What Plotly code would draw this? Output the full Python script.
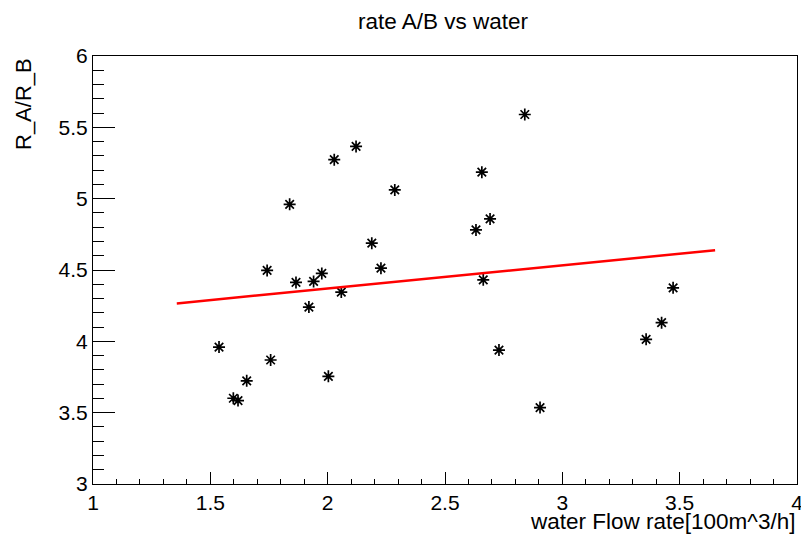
import plotly.graph_objects as go
import numpy as np

# data
water_flow = [1.537, 1.598, 1.618, 1.655, 1.742, 1.757, 1.838, 1.865, 1.920, 1.940,
              1.975, 2.003, 2.028, 2.058, 2.121, 2.188, 2.227, 2.286, 2.632, 2.657,
              2.663, 2.692, 2.730, 2.840, 2.905, 3.357, 3.423, 3.472]
rate_ab = [3.960, 3.601, 3.585, 3.723, 4.497, 3.869, 4.960, 4.413, 4.240, 4.420,
           4.476, 3.755, 5.273, 4.345, 5.366, 4.688, 4.513, 5.061, 4.781, 5.186,
           4.431, 4.858, 3.939, 5.590, 3.536, 4.014, 4.131, 4.375]

# linear fit parameters (pol1) and fit range
fit_p0 = 4.045
fit_p1 = 0.1626
fit_range = [1.357, 3.651]

x_ticks = [1, 1.5, 2, 2.5, 3, 3.5, 4]
y_ticks = [3, 3.5, 4, 4.5, 5, 5.5, 6]

fit_x = np.array(fit_range)
fit_y = fit_p0 + fit_p1 * fit_x

FONT = "Liberation Sans, Arial, Helvetica, sans-serif"

fig = go.Figure()
fig.add_trace(go.Scatter(
    x=water_flow, y=rate_ab, mode="markers",
    marker=dict(symbol="asterisk-open", size=10, color="black",
                line=dict(color="black", width=1.7)),
    showlegend=False, hoverinfo="x+y"))
fig.add_trace(go.Scatter(
    x=fit_x, y=fit_y, mode="lines",
    line=dict(color="#ff0000", width=2.5),
    showlegend=False))

fig.update_layout(
    width=801, height=534, autosize=False,
    margin=dict(l=93, r=4, t=56, b=50, autoexpand=False),
    paper_bgcolor="white", plot_bgcolor="white",
    font=dict(family=FONT, color="black", size=19),
    title=dict(text="rate A/B vs water", x=443/801, xanchor="center",
               y=1 - 21/534, yanchor="middle",
               font=dict(family=FONT, size=22.5, color="black")),
    xaxis=dict(range=[1, 4], tickvals=x_ticks,
               ticktext=[f"{v:g}" for v in x_ticks],
               ticks="inside", ticklen=12, tickwidth=1, tickcolor="black",
               minor=dict(dtick=0.1, ticks="inside", ticklen=5.5,
                          tickwidth=1, tickcolor="black"),
               showline=True, linecolor="black", linewidth=1, mirror=True,
               showgrid=False, zeroline=False, automargin=False,
               ticklabeloverflow="allow",
               tickfont=dict(family=FONT, size=21)),
    yaxis=dict(range=[3, 6], tickvals=y_ticks,
               ticktext=[f"{v:g}" for v in y_ticks],
               ticks="inside", ticklen=22, tickwidth=1, tickcolor="black",
               minor=dict(dtick=0.1, ticks="inside", ticklen=11,
                          tickwidth=1, tickcolor="black"),
               showline=True, linecolor="black", linewidth=1, mirror=True,
               showgrid=False, zeroline=False, automargin=False,
               ticklabeloverflow="allow",
               tickfont=dict(family=FONT, size=21)),
    annotations=[
        dict(text="water Flow rate[100m^3/h]", xref="paper", yref="paper",
             x=1.0, y=-37/428, xanchor="right", yanchor="middle",
             showarrow=False, font=dict(family=FONT, size=22.5, color="black")),
        dict(text="R_A/R_B", xref="paper", yref="paper",
             x=-70/704, y=1.0, xanchor="center", yanchor="top",
             textangle=-90, showarrow=False,
             font=dict(family=FONT, size=22, color="black")),
    ],
)

fig.write_html("out.html", config={"displayModeBar": False},
               post_script="document.body.style.margin='0';document.body.style.overflow='hidden';")
